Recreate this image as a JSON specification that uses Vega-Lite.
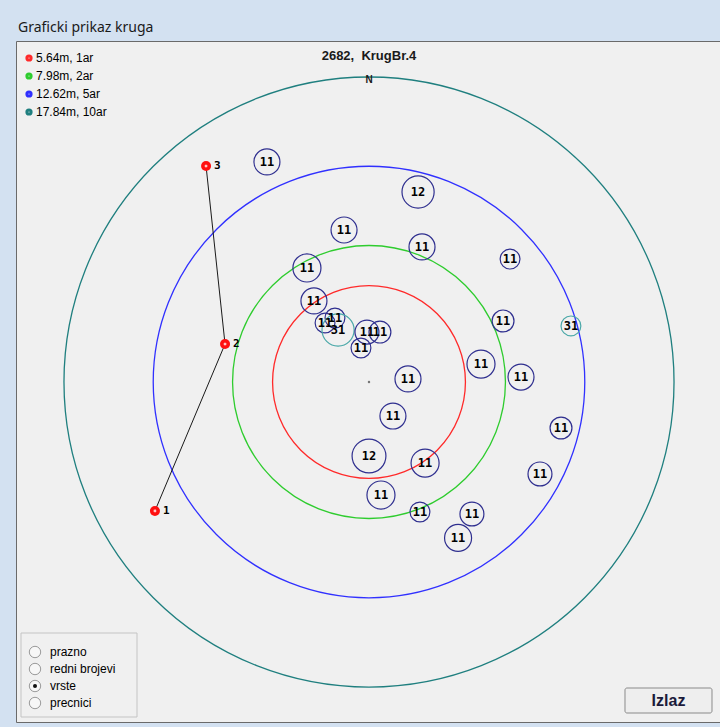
{
  "$schema": "https://vega.github.io/schema/vega-lite/v6.json",
  "autosize": {"type": "none"},
  "width": 704,
  "height": 681,
  "padding": {"left": 16, "top": 41, "right": 0, "bottom": 5},
  "background": "#d3e1f1",
  "title": {
    "text": "Graficki prikaz kruga",
    "anchor": "start",
    "frame": "group",
    "font": "Noto Sans",
    "fontSize": 14,
    "fontWeight": "normal",
    "color": "#1a1a1a",
    "baseline": "bottom",
    "offset": -8,
    "dx": 2
  },
  "config": {
    "view": {"fill": "#f0f0f0", "stroke": "#6a6a6a", "strokeWidth": 1},
    "legend": {
      "orient": "none",
      "legendX": 7,
      "legendY": 11,
      "padding": 0,
      "symbolType": "circle",
      "symbolSize": 18,
      "symbolStrokeWidth": 3,
      "labelFont": "Liberation Sans",
      "labelFontSize": 12,
      "labelColor": "#000000",
      "labelOffset": 1,
      "rowPadding": 0
    }
  },
  "datasets": {
    "rings": [
      {"cx": 0, "cy": 0, "r": 5.64, "label": "5.64m, 1ar"},
      {"cx": 0, "cy": 0, "r": 7.98, "label": "7.98m, 2ar"},
      {"cx": 0, "cy": 0, "r": 12.62, "label": "12.62m, 5ar"},
      {"cx": 0, "cy": 0, "r": 17.84, "label": "17.84m, 10ar"}
    ],
    "trees": [
      {"x": -5.97, "y": 12.87, "r": 0.76, "vrsta": "11"},
      {"x": 2.87, "y": 11.11, "r": 0.94, "vrsta": "12"},
      {"x": -1.46, "y": 8.89, "r": 0.76, "vrsta": "11"},
      {"x": 3.10, "y": 7.90, "r": 0.76, "vrsta": "11"},
      {"x": 8.25, "y": 7.19, "r": 0.58, "vrsta": "11"},
      {"x": -3.63, "y": 6.67, "r": 0.82, "vrsta": "11"},
      {"x": -3.22, "y": 4.74, "r": 0.76, "vrsta": "11"},
      {"x": -2.57, "y": 3.45, "r": 0.58, "vrsta": "11"},
      {"x": -1.99, "y": 3.74, "r": 0.58, "vrsta": "11"},
      {"x": -1.81, "y": 3.04, "r": 0.94, "vrsta": "31"},
      {"x": -0.12, "y": 2.92, "r": 0.70, "vrsta": "11"},
      {"x": 0.64, "y": 2.92, "r": 0.64, "vrsta": "11"},
      {"x": -0.47, "y": 1.99, "r": 0.58, "vrsta": "11"},
      {"x": 7.84, "y": 3.57, "r": 0.64, "vrsta": "11"},
      {"x": 11.81, "y": 3.28, "r": 0.58, "vrsta": "31"},
      {"x": 6.55, "y": 1.05, "r": 0.82, "vrsta": "11"},
      {"x": 8.89, "y": 0.29, "r": 0.76, "vrsta": "11"},
      {"x": 2.28, "y": 0.18, "r": 0.76, "vrsta": "11"},
      {"x": 1.40, "y": -1.99, "r": 0.76, "vrsta": "11"},
      {"x": 11.23, "y": -2.69, "r": 0.64, "vrsta": "11"},
      {"x": 0.00, "y": -4.33, "r": 0.99, "vrsta": "12"},
      {"x": 3.28, "y": -4.74, "r": 0.82, "vrsta": "11"},
      {"x": 10.00, "y": -5.38, "r": 0.70, "vrsta": "11"},
      {"x": 0.70, "y": -6.61, "r": 0.82, "vrsta": "11"},
      {"x": 2.98, "y": -7.60, "r": 0.58, "vrsta": "11"},
      {"x": 6.02, "y": -7.72, "r": 0.70, "vrsta": "11"},
      {"x": 5.21, "y": -9.12, "r": 0.79, "vrsta": "11"}
    ],
    "track": [
      {"n": 1, "x": -12.52, "y": -7.54},
      {"n": 2, "x": -8.42, "y": 2.22},
      {"n": 3, "x": -9.53, "y": 12.63}
    ],
    "center": [{"x": 0, "y": 0}],
    "heading": [{"x": 0, "y": 19.04, "text": "2682,\u00a0 KrugBr.4"}],
    "north": [{"x": 0, "y": 17.66, "text": "N"}],
    "groupbox": [{"x": -20.353, "x2": -13.569, "y": -14.68, "y2": -19.593}],
    "options": [
      {"x": -19.535, "y": -15.791, "label": "prazno", "sel": 0},
      {"x": -19.535, "y": -16.786, "label": "redni brojevi", "sel": 0},
      {"x": -19.535, "y": -17.78, "label": "vrste", "sel": 1},
      {"x": -19.535, "y": -18.774, "label": "precnici", "sel": 0}
    ],
    "button": [{"x": 14.972, "x2": 20.061, "y": -17.897, "y2": -19.359, "tx": 17.517, "ty": -18.628, "label": "Izlaz"}]
  },
  "layer": [
    {
      "data": {"name": "groupbox"},
      "mark": {"type": "rect", "fill": null, "stroke": "#c4c4c4", "strokeWidth": 1},
      "encoding": {
        "x": {"field": "x", "type": "quantitative", "scale": {"domain": [-20.646, 20.529], "nice": false, "zero": false}, "axis": null},
        "x2": {"field": "x2"},
        "y": {"field": "y", "type": "quantitative", "scale": {"domain": [-19.885, 19.944], "nice": false, "zero": false}, "axis": null},
        "y2": {"field": "y2"}
      }
    },
    {
      "data": {"name": "button"},
      "mark": {"type": "rect", "fill": "#eeeeee", "stroke": "#8a8a8a", "strokeWidth": 1, "cornerRadius": 2},
      "encoding": {
        "x": {"field": "x", "type": "quantitative"},
        "x2": {"field": "x2"},
        "y": {"field": "y", "type": "quantitative"},
        "y2": {"field": "y2"}
      }
    },
    {
      "data": {"name": "button"},
      "mark": {"type": "text", "font": "Liberation Sans", "fontSize": 16, "fontWeight": "bold", "color": "#1a1a3a", "align": "center", "baseline": "middle"},
      "encoding": {
        "x": {"field": "tx", "type": "quantitative"},
        "y": {"field": "ty", "type": "quantitative"},
        "text": {"field": "label"}
      }
    },
    {
      "data": {"name": "rings"},
      "mark": {"type": "point", "shape": "circle", "filled": false, "strokeWidth": 1.3, "opacity": 1},
      "encoding": {
        "x": {"field": "cx", "type": "quantitative"},
        "y": {"field": "cy", "type": "quantitative"},
        "size": {"field": "r", "type": "quantitative", "scale": {"type": "pow", "exponent": 2, "domain": [0, 20], "range": [0, 467746]}, "legend": null},
        "stroke": {
          "field": "label",
          "type": "nominal",
          "scale": {"domain": ["5.64m, 1ar", "7.98m, 2ar", "12.62m, 5ar", "17.84m, 10ar"], "range": ["#ff2a2a", "#2ecc2e", "#3030ff", "#1f7f7f"]},
          "legend": {"title": null}
        }
      }
    },
    {
      "data": {"name": "track"},
      "mark": {"type": "line", "color": "#1a1a1a", "strokeWidth": 1},
      "encoding": {
        "x": {"field": "x", "type": "quantitative"},
        "y": {"field": "y", "type": "quantitative"},
        "order": {"field": "n", "type": "quantitative"}
      }
    },
    {
      "data": {"name": "track"},
      "mark": {"type": "point", "shape": "circle", "filled": true, "color": "#ff1010", "opacity": 1, "size": 100},
      "encoding": {
        "x": {"field": "x", "type": "quantitative"},
        "y": {"field": "y", "type": "quantitative"}
      }
    },
    {
      "data": {"name": "track"},
      "mark": {"type": "point", "shape": "cross", "angle": 45, "filled": true, "color": "#ffc8c8", "opacity": 1, "size": 10},
      "encoding": {
        "x": {"field": "x", "type": "quantitative"},
        "y": {"field": "y", "type": "quantitative"}
      }
    },
    {
      "data": {"name": "track"},
      "mark": {"type": "text", "font": "DejaVu Sans Mono", "fontSize": 11, "fontWeight": "bold", "color": "#000000", "align": "left", "baseline": "middle", "dx": 8},
      "encoding": {
        "x": {"field": "x", "type": "quantitative"},
        "y": {"field": "y", "type": "quantitative"},
        "text": {"field": "n", "type": "nominal"}
      }
    },
    {
      "data": {"name": "trees"},
      "mark": {"type": "point", "shape": "circle", "filled": false, "strokeWidth": 1.2, "opacity": 1},
      "encoding": {
        "x": {"field": "x", "type": "quantitative"},
        "y": {"field": "y", "type": "quantitative"},
        "size": {"field": "r", "type": "quantitative"},
        "color": {
          "field": "vrsta",
          "type": "nominal",
          "scale": {"domain": ["11", "12", "31"], "range": ["#2f2f8f", "#2f2f8f", "#4aa8a8"]},
          "legend": null
        }
      }
    },
    {
      "data": {"name": "trees"},
      "mark": {"type": "text", "font": "DejaVu Sans Mono", "fontSize": 12, "fontWeight": "bold", "color": "#000000", "align": "center", "baseline": "middle"},
      "encoding": {
        "x": {"field": "x", "type": "quantitative"},
        "y": {"field": "y", "type": "quantitative"},
        "text": {"field": "vrsta"}
      }
    },
    {
      "data": {"name": "center"},
      "mark": {"type": "point", "shape": "circle", "filled": true, "color": "#777777", "opacity": 1, "size": 6},
      "encoding": {
        "x": {"field": "x", "type": "quantitative"},
        "y": {"field": "y", "type": "quantitative"}
      }
    },
    {
      "data": {"name": "heading"},
      "mark": {"type": "text", "font": "Liberation Sans", "fontSize": 13, "fontWeight": "bold", "color": "#1a1a1a", "align": "center", "baseline": "middle"},
      "encoding": {
        "x": {"field": "x", "type": "quantitative"},
        "y": {"field": "y", "type": "quantitative"},
        "text": {"field": "text"}
      }
    },
    {
      "data": {"name": "north"},
      "mark": {"type": "text", "font": "Liberation Sans", "fontSize": 10, "fontWeight": "bold", "color": "#1a1a1a", "align": "center", "baseline": "middle"},
      "encoding": {
        "x": {"field": "x", "type": "quantitative"},
        "y": {"field": "y", "type": "quantitative"},
        "text": {"field": "text"}
      }
    },
    {
      "data": {"name": "options"},
      "mark": {"type": "point", "shape": "circle", "filled": true, "fill": "#f7f7f7", "stroke": "#9a9a9a", "strokeWidth": 1, "opacity": 1, "size": 130},
      "encoding": {
        "x": {"field": "x", "type": "quantitative"},
        "y": {"field": "y", "type": "quantitative"}
      }
    },
    {
      "data": {"name": "options"},
      "transform": [{"filter": "datum.sel == 1"}],
      "mark": {"type": "point", "shape": "circle", "filled": true, "color": "#111111", "opacity": 1, "size": 16},
      "encoding": {
        "x": {"field": "x", "type": "quantitative"},
        "y": {"field": "y", "type": "quantitative"}
      }
    },
    {
      "data": {"name": "options"},
      "mark": {"type": "text", "font": "Liberation Sans", "fontSize": 12, "color": "#000000", "align": "left", "baseline": "middle", "dx": 15},
      "encoding": {
        "x": {"field": "x", "type": "quantitative"},
        "y": {"field": "y", "type": "quantitative"},
        "text": {"field": "label"}
      }
    }
  ]
}
